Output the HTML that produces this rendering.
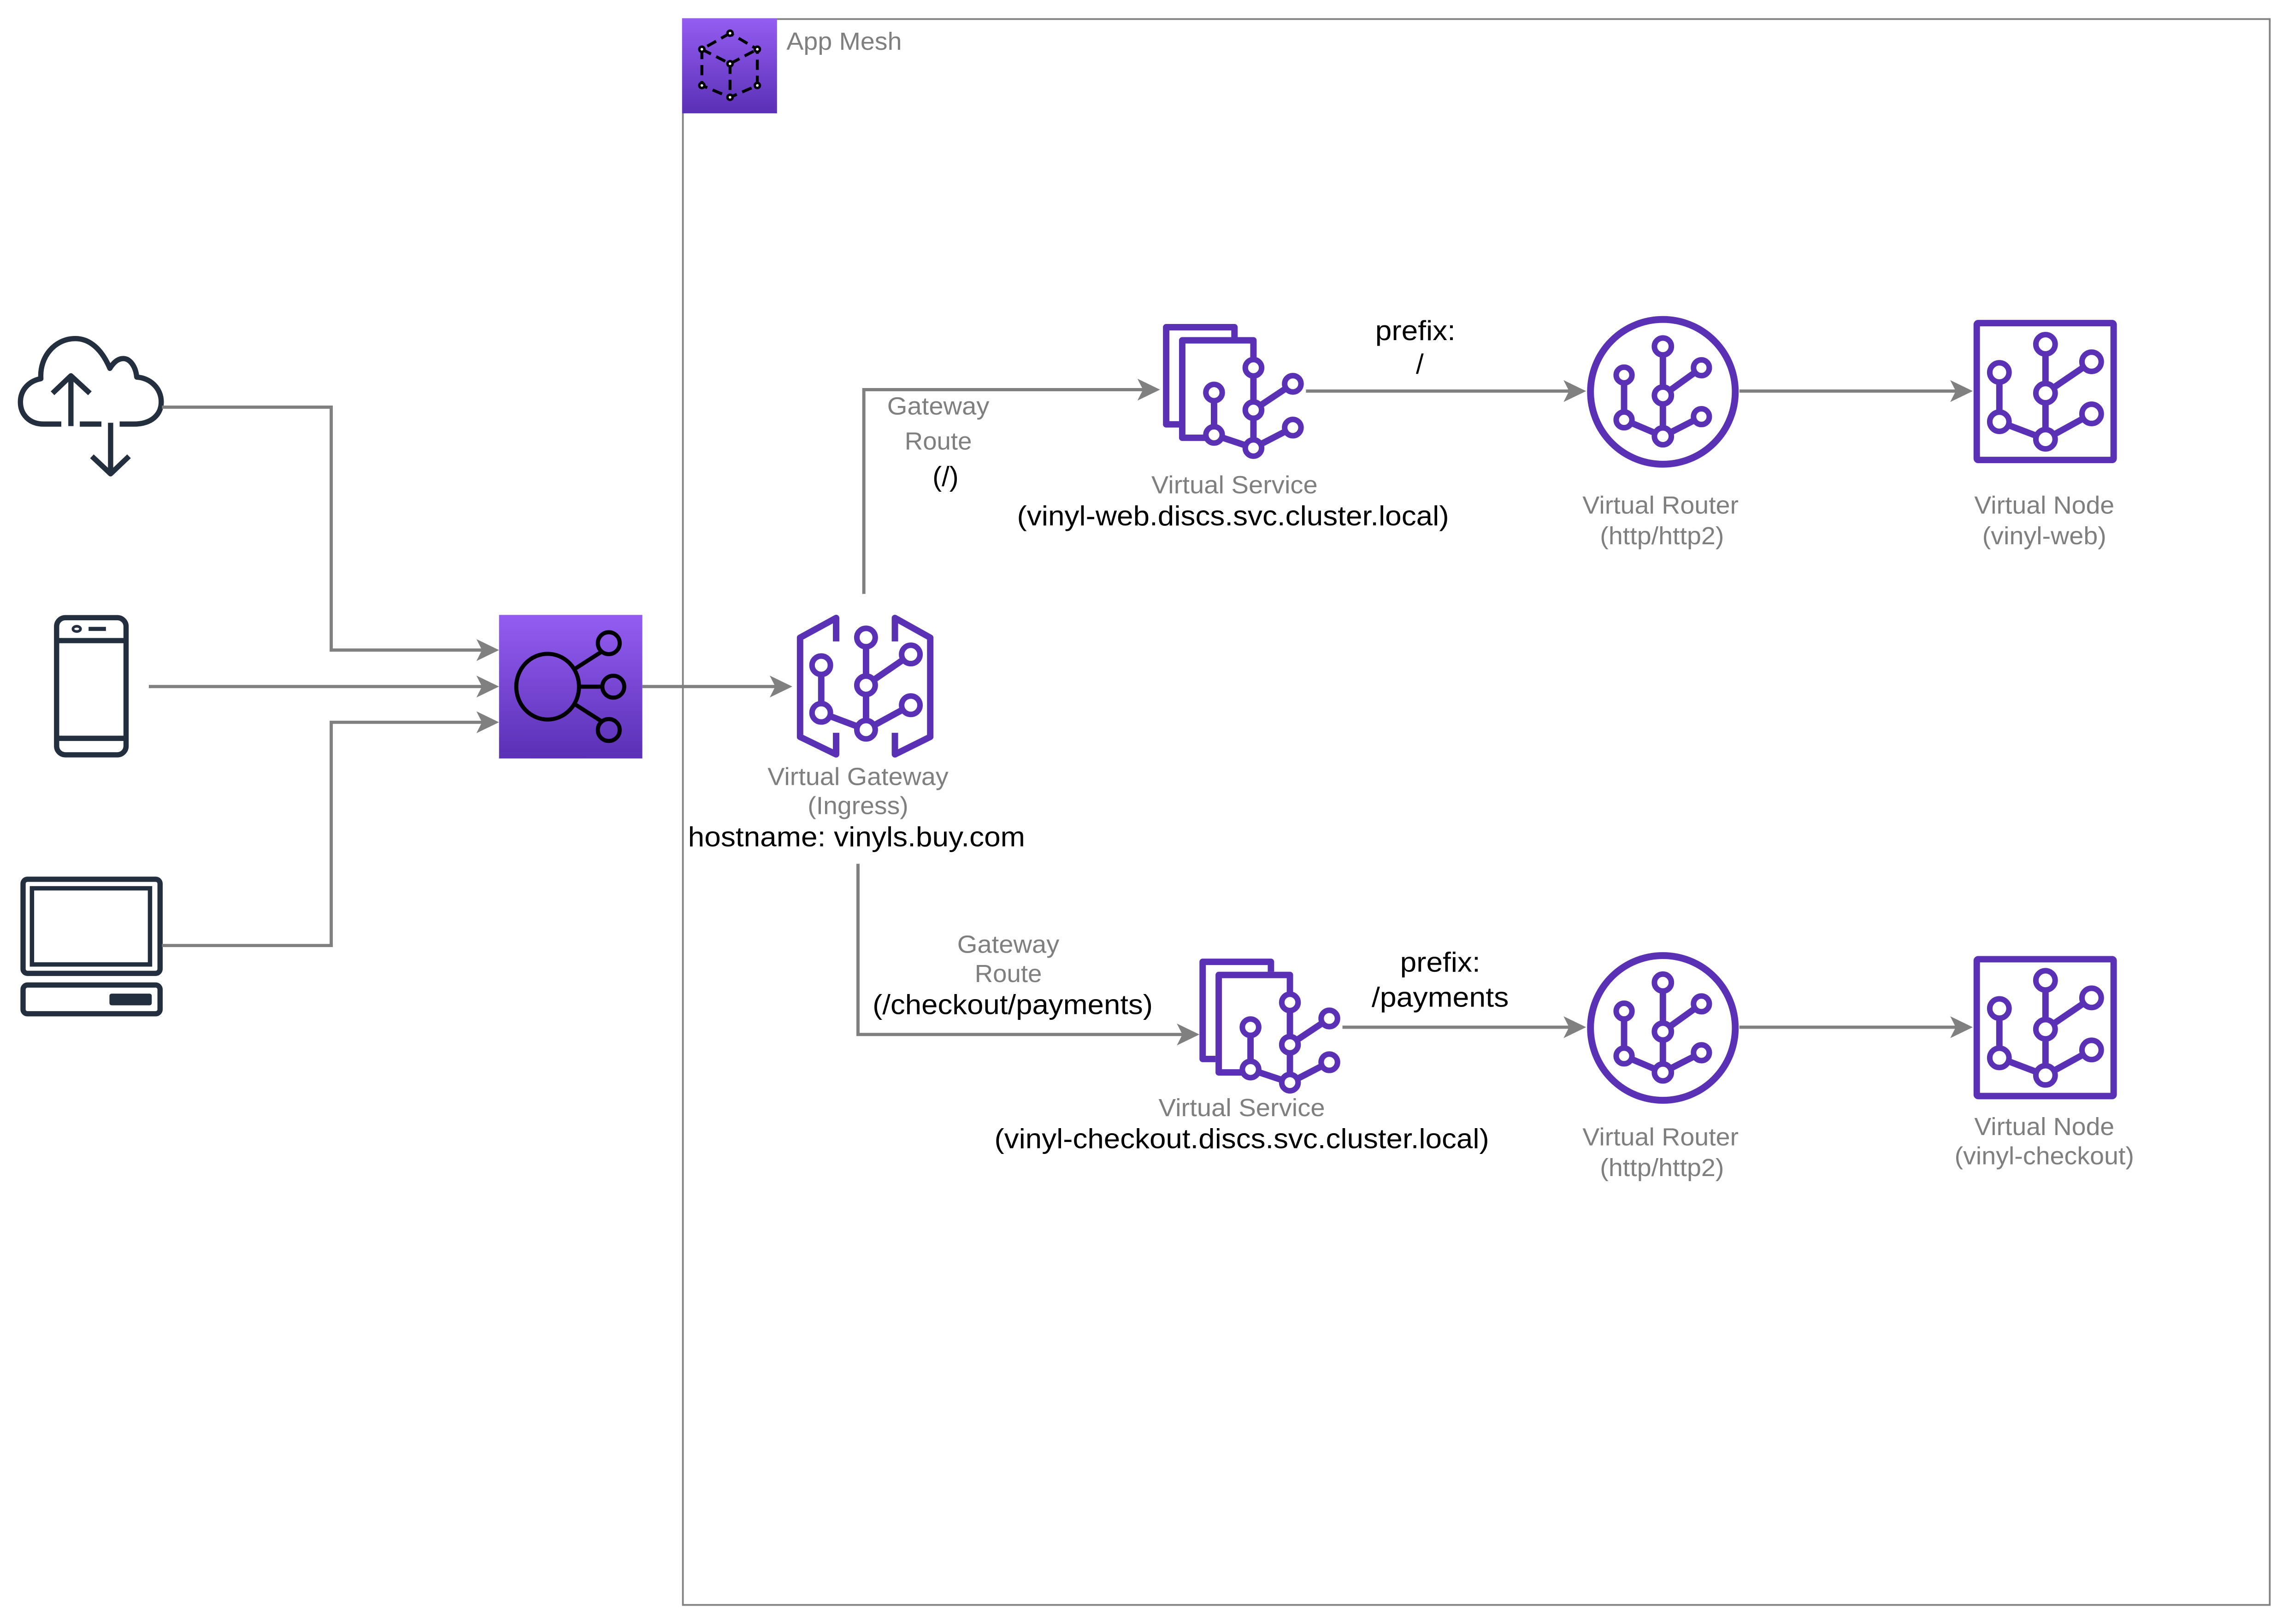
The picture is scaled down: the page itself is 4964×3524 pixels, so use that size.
<!DOCTYPE html>
<html><head><meta charset="utf-8"><style>
html,body{margin:0;padding:0;background:#fff;}
svg{display:block;}
text{font-family:"Liberation Sans",Arial,sans-serif;}
.g{fill:#7f7f7f;font-size:17px;}
.b{fill:#000;font-size:19px;}
.ln{fill:none;stroke:#808080;stroke-width:2.2;}
.ah{fill:#808080;}
.p{fill:none;stroke:#5A30B5;stroke-width:4.4;stroke-linejoin:round;}
.c{fill:#fff;stroke:#5A30B5;stroke-width:3.8;}
.d{fill:none;stroke:#232F3E;stroke-width:3.6;stroke-linejoin:round;}
</style></head><body>
<svg width="4964" height="3524" viewBox="0 0 1568 1113" xmlns="http://www.w3.org/2000/svg">
<defs>
<linearGradient id="pg" x1="0" y1="0" x2="0" y2="1">
<stop offset="0" stop-color="#945DF2"/><stop offset="1" stop-color="#5A30B5"/>
</linearGradient>
</defs>
<rect width="1568" height="1113" fill="#fff"/>

<!-- App Mesh container -->
<rect x="468" y="13" width="1087.5" height="1087" fill="none" stroke="#808080" stroke-width="1.2"/>
<rect x="467.5" y="12.6" width="65" height="65" fill="url(#pg)"/>
<g fill="none" stroke="#000" stroke-width="2" stroke-dasharray="7,4">
<path d="M500.3,22.7 L481,33.7 L481,58.5 L500.3,66.6 L519,58.5 L519,33.7 Z"/>
<path d="M481,33.7 L500.3,43.6 L519,33.7 M500.3,43.6 V66.6"/>
</g>
<g fill="#000"><circle cx="500.3" cy="22.7" r="2.6"/><circle cx="481" cy="33.7" r="2.6"/><circle cx="519" cy="33.7" r="2.6"/><circle cx="481" cy="58.5" r="2.6"/><circle cx="519" cy="58.5" r="2.6"/><circle cx="500.3" cy="66.6" r="2.6"/><circle cx="500.3" cy="43.6" r="2.6"/></g>
<g fill="#fff"><circle cx="500.3" cy="22.7" r="0.9"/><circle cx="481" cy="33.7" r="0.9"/><circle cx="519" cy="33.7" r="0.9"/><circle cx="481" cy="58.5" r="0.9"/><circle cx="519" cy="58.5" r="0.9"/><circle cx="500.3" cy="66.6" r="0.9"/><circle cx="500.3" cy="43.6" r="0.9"/></g>
<text class="g" x="539" y="34" textLength="79" lengthAdjust="spacingAndGlyphs">App Mesh</text>

<!-- Cloud -->
<path class="d" d="M42,290.6 H30 C20,290.6 14,284 14,275.5 C14,267 20,261 28,259.5 C27,244 38,232 51.6,232 C62,232 70,240 75.3,252.4 C78,248 81,245.7 84.5,245.7 C89,245.7 93,251 93.7,258.4 C103,259 110.5,266 110.5,275.5 C110.5,284 104,290.6 91.6,290.6 H82"/>
<path class="d" d="M54.7,290.6 H69.5"/>
<path class="d" d="M48.6,292 V258 M36,269.5 L48.6,257.5 L61.6,269.5"/>
<path class="d" d="M75.8,289.7 V324 M63,312.7 L75.8,324.7 L88.4,312.7"/>

<!-- Phone -->
<rect class="d" x="38.8" y="423.3" width="47.6" height="94" rx="6"/>
<path class="d" d="M38.8,439 H86.4 M38.8,506 H86.4"/>
<ellipse cx="52.6" cy="431" rx="2.6" ry="1.8" fill="none" stroke="#232F3E" stroke-width="1.8"/>
<rect x="60.7" y="429.6" width="11.9" height="2.8" fill="#232F3E"/>

<!-- Laptop -->
<rect class="d" x="15.8" y="602.6" width="93.9" height="64.5" rx="3"/>
<rect x="21.9" y="608.8" width="80.9" height="52.2" fill="none" stroke="#232F3E" stroke-width="3"/>
<rect class="d" x="15.8" y="675.1" width="93.9" height="19.7" rx="3"/>
<rect x="75" y="681" width="29" height="8" rx="1.5" fill="#232F3E"/>

<!-- ELB -->
<rect x="342" y="421.4" width="98.2" height="98.4" fill="url(#pg)"/>
<g fill="none" stroke="#000" stroke-width="2.8">
<ellipse cx="375.3" cy="470.6" rx="21.5" ry="22.5"/>
<circle cx="417.2" cy="440.8" r="7.5"/>
<circle cx="420.3" cy="470.6" r="7.5"/>
<circle cx="417.2" cy="500.3" r="7.5"/>
<path d="M393,459 L412.5,446.5 M397,470.6 H412.8 M393,482 L412.5,494.5"/>
</g>

<!-- Connectors -->
<path class="ln" d="M111,279 H227 V445.5 H331"/>
<polygon class="ah" points="342,445.5 326.5,438 330.3,445.5 326.5,453"/>
<path class="ln" d="M102,470.5 H331"/>
<polygon class="ah" points="342,470.5 326.5,463 330.3,470.5 326.5,478"/>
<path class="ln" d="M111,648 H227 V495 H331"/>
<polygon class="ah" points="342,495 326.5,487.5 330.3,495 326.5,502.5"/>
<path class="ln" d="M440,470.5 H532"/>
<polygon class="ah" points="543,470.5 527.5,463 531.3,470.5 527.5,478"/>
<path class="ln" d="M592,407 V267 H784"/>
<polygon class="ah" points="795,267 779.5,259.5 783.3,267 779.5,274.5"/>
<path class="ln" d="M895,268 H1076"/>
<polygon class="ah" points="1087,268 1071.5,260.5 1075.3,268 1071.5,275.5"/>
<path class="ln" d="M1192,268 H1341"/>
<polygon class="ah" points="1352,268 1336.5,260.5 1340.3,268 1336.5,275.5"/>
<path class="ln" d="M588,592 V709 H811"/>
<polygon class="ah" points="822,709 806.5,701.5 810.3,709 806.5,716.5"/>
<path class="ln" d="M920,704 H1076"/>
<polygon class="ah" points="1087,704 1071.5,696.5 1075.3,704 1071.5,711.5"/>
<path class="ln" d="M1192,704 H1341"/>
<polygon class="ah" points="1352,704 1336.5,696.5 1340.3,704 1336.5,711.5"/>

<!-- Virtual Gateway -->
<path class="p" d="M573,439.6 V423.5 L548.3,437 V505 L573,517 V502.2"/>
<path class="p" d="M613.3,439.6 V423.5 L637.5,437 V505 L613.3,517 V502.2"/>
<g>
<path class="p" d="M593.5,436.9 V500.1 M562.8,455.9 V488.5 L593.5,500.1 M593.5,469.6 L624.2,448.5 M593.5,500.1 L624.2,483.3"/>
<circle class="c" cx="593.5" cy="436.9" r="6.3"/><circle class="c" cx="593.5" cy="469.6" r="6.3"/><circle class="c" cx="593.5" cy="500.1" r="6.3"/>
<circle class="c" cx="562.8" cy="455.9" r="6.3"/><circle class="c" cx="562.8" cy="488.5" r="6.3"/>
<circle class="c" cx="624.2" cy="448.5" r="6.3"/><circle class="c" cx="624.2" cy="483.3" r="6.3"/>
</g>

<!-- Virtual Service top -->
<g id="vs">
<path class="p" d="M846,231 V224.2 H799.2 V290.8 H808"/>
<path class="p" d="M859,252 V233.2 H810.2 V300 H832"/>
<path class="p" d="M859,252 V307 M832,269 V298 L859,307 M859,281 L886,263 M859,307 L886,293"/>
<circle class="c" cx="859" cy="252" r="5.6"/><circle class="c" cx="859" cy="281" r="5.6"/><circle class="c" cx="859" cy="307" r="5.6"/>
<circle class="c" cx="832" cy="269" r="5.6"/><circle class="c" cx="832" cy="298" r="5.6"/>
<circle class="c" cx="886" cy="263" r="5.6"/><circle class="c" cx="886" cy="293" r="5.6"/>
</g>
<!-- Virtual Service bottom -->
<g transform="translate(25,435)">
<path class="p" d="M846,231 V224.2 H799.2 V290.8 H808"/>
<path class="p" d="M859,252 V233.2 H810.2 V300 H832"/>
<path class="p" d="M859,252 V307 M832,269 V298 L859,307 M859,281 L886,263 M859,307 L886,293"/>
<circle class="c" cx="859" cy="252" r="5.6"/><circle class="c" cx="859" cy="281" r="5.6"/><circle class="c" cx="859" cy="307" r="5.6"/>
<circle class="c" cx="832" cy="269" r="5.6"/><circle class="c" cx="832" cy="298" r="5.6"/>
<circle class="c" cx="886" cy="263" r="5.6"/><circle class="c" cx="886" cy="293" r="5.6"/>
</g>

<!-- Virtual Router top & bottom -->
<g>
<circle cx="1139.6" cy="268.5" r="49.6" fill="none" stroke="#5A30B5" stroke-width="4.7"/>
<path class="p" d="M1139.6,237.4 V299 M1113,257 V287.7 L1139.6,299 M1139.6,271 L1166,252 M1139.6,299 L1166,285.5"/>
<circle class="c" cx="1139.6" cy="237.4" r="5.8"/><circle class="c" cx="1139.6" cy="271" r="5.8"/><circle class="c" cx="1139.6" cy="299" r="5.8"/>
<circle class="c" cx="1113" cy="257" r="5.4"/><circle class="c" cx="1113" cy="287.7" r="5.4"/>
<circle class="c" cx="1166" cy="252" r="5.4"/><circle class="c" cx="1166" cy="285.5" r="5.4"/>
</g>
<g transform="translate(0,436)">
<circle cx="1139.6" cy="268.5" r="49.6" fill="none" stroke="#5A30B5" stroke-width="4.7"/>
<path class="p" d="M1139.6,237.4 V299 M1113,257 V287.7 L1139.6,299 M1139.6,271 L1166,252 M1139.6,299 L1166,285.5"/>
<circle class="c" cx="1139.6" cy="237.4" r="5.8"/><circle class="c" cx="1139.6" cy="271" r="5.8"/><circle class="c" cx="1139.6" cy="299" r="5.8"/>
<circle class="c" cx="1113" cy="257" r="5.4"/><circle class="c" cx="1113" cy="287.7" r="5.4"/>
<circle class="c" cx="1166" cy="252" r="5.4"/><circle class="c" cx="1166" cy="285.5" r="5.4"/>
</g>

<!-- Virtual Node top & bottom -->
<g>
<rect x="1354.7" y="221.4" width="93.8" height="93.8" fill="none" stroke="#5A30B5" stroke-width="4.4" rx="1"/>
<path class="p" d="M1401.8,235.9 V301 M1370.2,255.2 V289 L1401.8,301 M1401.8,269.4 L1433.4,247.9 M1401.8,301 L1433.4,283.6"/>
<circle class="c" cx="1401.8" cy="235.9" r="6.6"/><circle class="c" cx="1401.8" cy="269.4" r="6.6"/><circle class="c" cx="1401.8" cy="301" r="6.6"/>
<circle class="c" cx="1370.2" cy="255.2" r="6.6"/><circle class="c" cx="1370.2" cy="289" r="6.6"/>
<circle class="c" cx="1433.4" cy="247.9" r="6.6"/><circle class="c" cx="1433.4" cy="283.6" r="6.6"/>
</g>
<g transform="translate(0,436)">
<rect x="1354.7" y="221.4" width="93.8" height="93.8" fill="none" stroke="#5A30B5" stroke-width="4.4" rx="1"/>
<path class="p" d="M1401.8,235.9 V301 M1370.2,255.2 V289 L1401.8,301 M1401.8,269.4 L1433.4,247.9 M1401.8,301 L1433.4,283.6"/>
<circle class="c" cx="1401.8" cy="235.9" r="6.6"/><circle class="c" cx="1401.8" cy="269.4" r="6.6"/><circle class="c" cx="1401.8" cy="301" r="6.6"/>
<circle class="c" cx="1370.2" cy="255.2" r="6.6"/><circle class="c" cx="1370.2" cy="289" r="6.6"/>
<circle class="c" cx="1433.4" cy="247.9" r="6.6"/><circle class="c" cx="1433.4" cy="283.6" r="6.6"/>
</g>

<!-- Labels -->
<g text-anchor="middle">
<text class="g" x="643" y="284" textLength="70" lengthAdjust="spacingAndGlyphs">Gateway</text>
<text class="g" x="643" y="308" textLength="46" lengthAdjust="spacingAndGlyphs">Route</text>
<text class="b" x="648" y="333">(/)</text>

<text class="g" x="846" y="338" textLength="114" lengthAdjust="spacingAndGlyphs">Virtual Service</text>
<text class="b" x="845" y="360" textLength="296" lengthAdjust="spacingAndGlyphs">(vinyl-web.discs.svc.cluster.local)</text>

<text class="b" x="970" y="233" textLength="55" lengthAdjust="spacingAndGlyphs">prefix:</text>
<text class="b" x="973" y="256">/</text>

<text class="g" x="1138" y="352" textLength="107" lengthAdjust="spacingAndGlyphs">Virtual Router</text>
<text class="g" x="1139" y="373" textLength="85" lengthAdjust="spacingAndGlyphs">(http/http2)</text>

<text class="g" x="1401" y="352" textLength="96" lengthAdjust="spacingAndGlyphs">Virtual Node</text>
<text class="g" x="1401" y="373" textLength="85" lengthAdjust="spacingAndGlyphs">(vinyl-web)</text>

<text class="g" x="588" y="538" textLength="124" lengthAdjust="spacingAndGlyphs">Virtual Gateway</text>
<text class="g" x="588" y="558" textLength="69" lengthAdjust="spacingAndGlyphs">(Ingress)</text>
<text class="b" x="587" y="580" textLength="231" lengthAdjust="spacingAndGlyphs">hostname: vinyls.buy.com</text>

<text class="g" x="691" y="653" textLength="70" lengthAdjust="spacingAndGlyphs">Gateway</text>
<text class="g" x="691" y="673" textLength="46" lengthAdjust="spacingAndGlyphs">Route</text>
<text class="b" x="694" y="695" textLength="192" lengthAdjust="spacingAndGlyphs">(/checkout/payments)</text>

<text class="g" x="851" y="765" textLength="114" lengthAdjust="spacingAndGlyphs">Virtual Service</text>
<text class="b" x="851" y="787" textLength="339" lengthAdjust="spacingAndGlyphs">(vinyl-checkout.discs.svc.cluster.local)</text>

<text class="b" x="987" y="666" textLength="55" lengthAdjust="spacingAndGlyphs">prefix:</text>
<text class="b" x="987" y="690" textLength="94" lengthAdjust="spacingAndGlyphs">/payments</text>

<text class="g" x="1138" y="785" textLength="107" lengthAdjust="spacingAndGlyphs">Virtual Router</text>
<text class="g" x="1139" y="806" textLength="85" lengthAdjust="spacingAndGlyphs">(http/http2)</text>

<text class="g" x="1401" y="778" textLength="96" lengthAdjust="spacingAndGlyphs">Virtual Node</text>
<text class="g" x="1401" y="798" textLength="123" lengthAdjust="spacingAndGlyphs">(vinyl-checkout)</text>
</g>
</svg>
</body></html>
